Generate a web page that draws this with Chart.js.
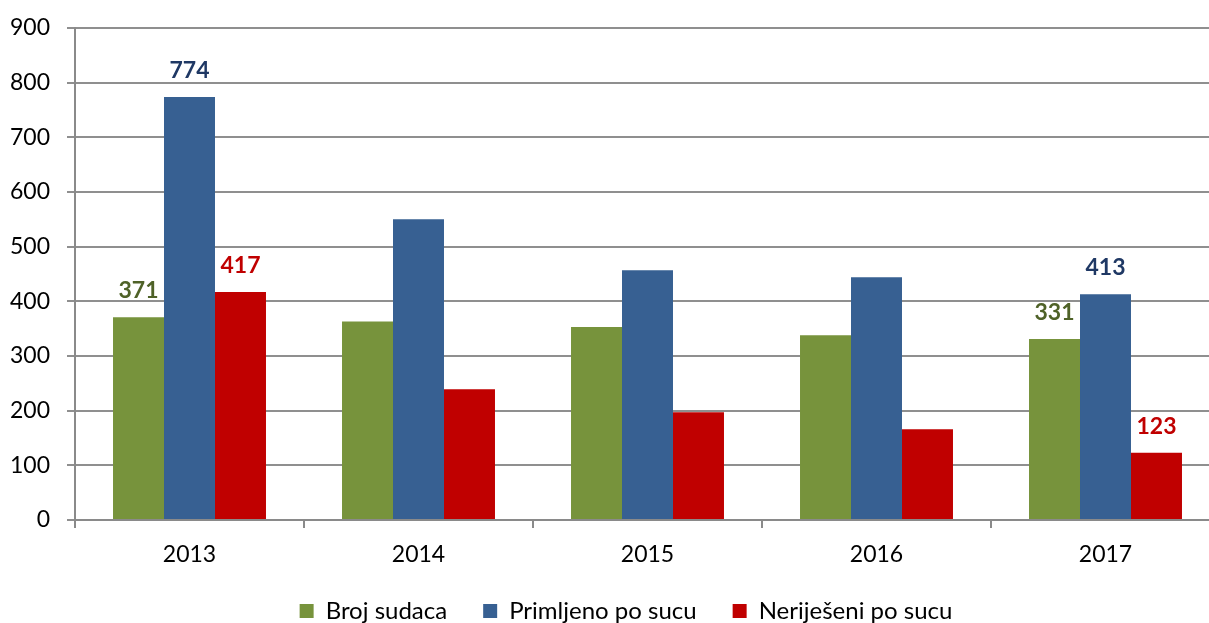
<!DOCTYPE html>
<html>
<head>
<meta charset="utf-8">
<script src="https://cdn.jsdelivr.net/npm/chart.js@4/dist/chart.umd.min.js"></script>
<style>
    html, body { margin: 0; padding: 0; background: #fff; overflow: hidden; }
    #wrap { position: absolute; left: 0; top: 0; width: 1220px; height: 633px; }
</style>
</head>
<body>
<div id="wrap"><canvas id="chart"></canvas></div>
<script>
// Données du graphique
const years = ['2013', '2014', '2015', '2016', '2017'];
const brojSudaca = [371, 363, 353, 338, 331];
const primljenoPoSucu = [774, 550, 457, 444, 413];
const neriješeniPoSucu = [417, 239, 197, 166, 123];
const yTicks = [0, 100, 200, 300, 400, 500, 600, 700, 800, 900];
// Années avec les valeurs affichées au-dessus des barres
const labelledYears = ['2013', '2017'];

const FONT = 'Lato, "Open Sans", sans-serif';

// Plugin simple pour les étiquettes de valeurs
const valueLabels = {
    id: 'valueLabels',
    afterDatasetsDraw(chart) {
        const ctx = chart.ctx;
        ctx.save();
        ctx.font = 'bold 23px ' + FONT;
        ctx.textAlign = 'center';
        ctx.textBaseline = 'alphabetic';
        chart.data.datasets.forEach((ds, i) => {
            const meta = chart.getDatasetMeta(i);
            meta.data.forEach((bar, j) => {
                if (!labelledYears.includes(chart.data.labels[j])) return;
                ctx.fillStyle = ds.labelColor;
                ctx.fillText(String(ds.data[j]), bar.x, bar.y - 19);
            });
        });
        ctx.restore();
    }
};

// Décaler un peu la légende vers la droite (comme dans l'original)
const legendShift = {
    id: 'legendShift',
    afterLayout(chart) {
        chart.legend.left += 16;
        chart.legend.right += 16;
    }
};

new Chart(document.getElementById('chart'), {
    type: 'bar',
    data: {
        labels: years,
        datasets: [
            { label: 'Broj sudaca', data: brojSudaca, backgroundColor: '#77933C', labelColor: '#4F6228' },
            { label: 'Primljeno po sucu', data: primljenoPoSucu, backgroundColor: '#376092', labelColor: '#1F3864' },
            { label: 'Neriješeni po sucu', data: neriješeniPoSucu, backgroundColor: '#C00000', labelColor: '#C00000' }
        ]
    },
    options: {
        responsive: true,
        maintainAspectRatio: false,
        animation: false,
        layout: { padding: { top: 28, right: 0, left: 0, bottom: 0 } },
        datasets: { bar: { categoryPercentage: 0.668, barPercentage: 1 } },
        plugins: {
            legend: {
                position: 'bottom',
                labels: {
                    font: { family: FONT, size: 24 },
                    color: '#000',
                    boxWidth: 14,
                    boxHeight: 14,
                    padding: 36
                }
            },
            tooltip: { enabled: false }
        },
        scales: {
            x: {
                grid: { drawOnChartArea: false, tickLength: 8, color: '#8a8a8a', lineWidth: 2 },
                border: { color: '#8a8a8a', width: 2 },
                ticks: { font: { family: FONT, size: 23 }, color: '#000', padding: 13 },
                afterFit(scale) { scale.height = 43; }
            },
            y: {
                min: 0,
                max: 900,
                afterBuildTicks(scale) { scale.ticks = yTicks.map(v => ({ value: v })); },
                grid: { color: '#8f8f8f', lineWidth: 2, tickLength: 8 },
                border: { color: '#8a8a8a', width: 2 },
                ticks: { font: { family: FONT, size: 23 }, color: '#000', padding: 17 },
                afterFit(scale) {
                    scale.width = 75;
                    scale.paddingTop = 0;
                    scale.paddingBottom = 0;
                }
            }
        }
    },
    plugins: [valueLabels, legendShift]
});
</script>
</body>
</html>
